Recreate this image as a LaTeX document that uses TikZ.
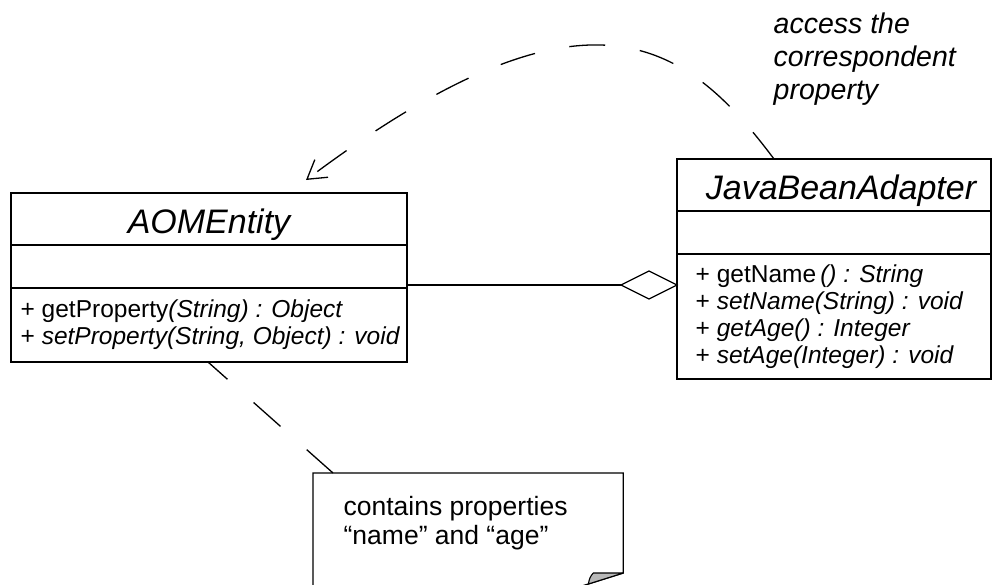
\documentclass[tikz,border=0pt]{standalone}
\usepackage{fontspec}
\setmainfont{Liberation Sans}
\usetikzlibrary{arrows.meta,shapes.geometric,calc}
\begin{document}
\begin{tikzpicture}[x=1pt,y=-1pt,
  line width=1.3pt,
  compart/.style={draw, line width=1.3pt, anchor=north west, inner sep=0pt, outer sep=0pt},
  classname/.style={anchor=base, inner sep=0pt, font=\fontsize{34}{34}\selectfont\itshape},
  oper/.style={anchor=base west, inner sep=0pt, font=\fontsize{24.5}{27}\selectfont},
  notetext/.style={anchor=base west, inner sep=0pt, font=\fontsize{26.5}{29}\selectfont},
  labeltext/.style={anchor=base west, inner sep=0pt, font=\fontsize{28.5}{33}\selectfont\itshape},
  dashline/.style={line width=1.3pt, dash pattern=on 36pt off 35pt},
  aggr/.style={draw, diamond, fill=white, line width=1.3pt, inner sep=0pt, minimum width=56pt, minimum height=28pt, outer sep=0pt}
]
\clip (0,0) rectangle (992,584);
\fill[white] (0,0) rectangle (992,584);

% class AOMEntity
\node[compart, minimum width=396pt, minimum height=52pt] (aomname) at (11,193) {};
\node[compart, minimum width=396pt, minimum height=43pt] (aomattr) at (11,245) {};
\node[compart, minimum width=396pt, minimum height=74pt] (aomops)  at (11,288) {};
\node[classname] (aomtitle) at (209,233) {AOMEntity};
\node[oper] (aomop1) at (20,317) {+ getProperty\textit{(String) : Object}};
\node[oper] (aomop2) at (20,344) {+ \textit{setProperty(String, Object) : void}};

% class JavaBeanAdapter
\node[compart, minimum width=314pt, minimum height=52pt] (jbaname) at (677,159) {};
\node[compart, minimum width=314pt, minimum height=43pt] (jbaattr) at (677,211) {};
\node[compart, minimum width=314pt, minimum height=125pt] (jbaops) at (677,254) {};
\node[classname] (jbatitle) at (841,199) {JavaBeanAdapter};
\node[oper] (jbaop1) at (695,282) {+ getName\,\textit{() : String}};
\node[oper] (jbaop2) at (695,309) {+ \textit{setName(String) : void}};
\node[oper] (jbaop3) at (695,336) {+ \textit{getAge() : Integer}};
\node[oper] (jbaop4) at (695,363) {+ \textit{setAge(Integer) : void}};

% aggregation between the two classes
\node[aggr, anchor=east] (agg) at (677,285) {};
\draw (aomattr.east |- agg.west) -- (agg.west);

% note attached to AOMEntity, with a curled lower right corner
\node[anchor=north west, inner sep=0pt, minimum width=309pt, minimum height=122pt] (note) at (313,473) {};
\coordinate (curlR) at ($(note.north east)+(0,100)$);
\coordinate (curlB) at ($(curlR)+(-35,11)$);
\coordinate (curlT) at ($(curlR)+(-30,0)$);
\coordinate (curlE) at ($(curlR)+(-54,17)$);
\draw[line join=miter] (note.north west) -- (note.north east) -- (curlR) -- (curlE)
  -- (note.south east -| curlE) -- (note.south west) -- cycle;
\draw[fill=black!28, line width=1.1pt, line join=round] (curlT) -- (curlR) -- (curlB)
  .. controls ($(curlB)+(1,-5)$) and ($(curlT)+(-3,3)$) .. (curlT) -- cycle;
\node[notetext] (notel1) at (343,515) {contains properties};
\node[notetext] (notel2) at (343,544) {“name” and “age”};
\coordinate (aomlink) at (208,362);
\coordinate (notelink) at (333,473);
\draw[dashline, dash phase=10pt] (aomlink) -- (notelink);

% dependency: adapter accesses the entity property
\coordinate (jbalink) at (774,159);
\coordinate (aomtip) at (306,180);
\draw[dashline, dash phase=2pt, -{Straight Barb[length=18pt,width=22pt,line width=1.3pt]}]
  (jbalink) .. controls (684,39) and (586,-30) .. (aomtip);
\node[labeltext] (lbl1) at (773,33) {access the};
\node[labeltext] (lbl2) at (773,66) {correspondent};
\node[labeltext] (lbl3) at (773,99) {property};
\end{tikzpicture}
\end{document}
